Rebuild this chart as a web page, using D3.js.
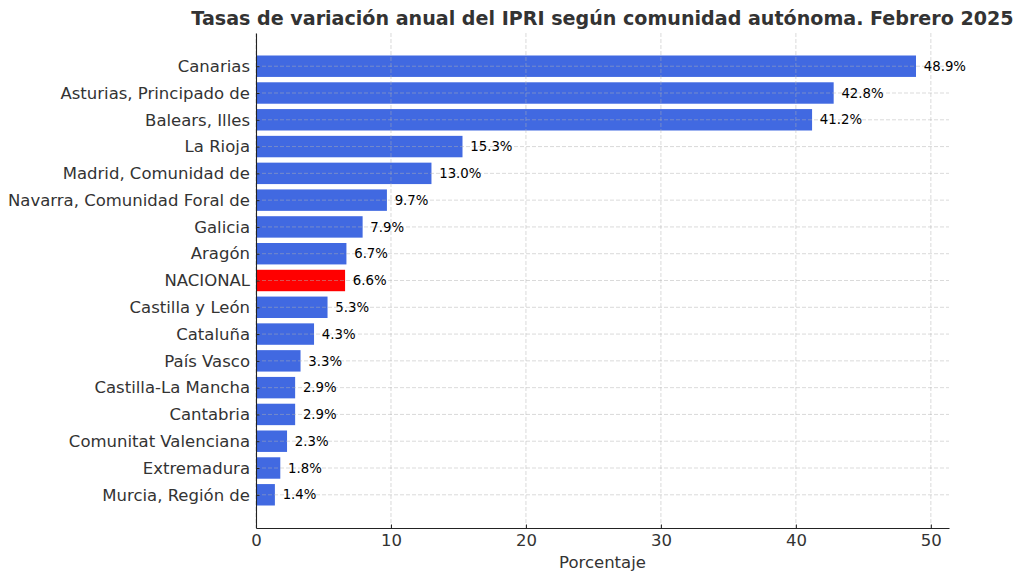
<!DOCTYPE html>
<html>
<head>
<meta charset="utf-8">
<script src="https://cdn.jsdelivr.net/npm/d3@7"></script>
<style>
  body { margin: 0; background: #fff; }
  text { font-family: "DejaVu Sans", sans-serif; }
</style>
</head>
<body>
<svg width="1024" height="581"></svg>
<script>
// datos
var regions = ["Canarias", "Asturias, Principado de", "Balears, Illes", "La Rioja",
  "Madrid, Comunidad de", "Navarra, Comunidad Foral de", "Galicia", "Aragón",
  "NACIONAL", "Castilla y León", "Cataluña", "País Vasco", "Castilla-La Mancha",
  "Cantabria", "Comunitat Valenciana", "Extremadura", "Murcia, Región de"];
var rates = [48.9, 42.8, 41.2, 15.3, 13.0, 9.7, 7.9, 6.7, 6.6, 5.3, 4.3, 3.3, 2.9, 2.9, 2.3, 1.8, 1.4];
var xTicks = [0, 10, 20, 30, 40, 50];

var plotLeft = 256, plotRight = 949, plotTop = 33, plotBottom = 528;

var svg = d3.select("svg");

var x = d3.scaleLinear()
  .domain([0, d3.max(rates) * 1.05])
  .range([plotLeft, plotRight]);

// posicion por indice, como en matplotlib (barh de altura 0.8 con margen 5%)
var y = d3.scaleLinear()
  .domain([-1.24, regions.length - 1 + 1.24])
  .range([plotTop, plotBottom]);

var barH = (y(0.8) - y(0));

// barras
svg.selectAll("rect.bar")
  .data(rates)
  .enter()
  .append("rect")
  .attr("class", "bar")
  .attr("x", x(0))
  .attr("y", function(d, i) { return y(i - 0.4); })
  .attr("width", function(d) { return x(d) - x(0); })
  .attr("height", barH)
  .attr("fill", function(d, i) { return regions[i] == "NACIONAL" ? "#ff0000" : "#4169e1"; });

// rejilla (encima de las barras)
var grid = svg.append("g");
grid.selectAll("line.gx")
  .data(xTicks)
  .enter()
  .append("line")
  .attr("class", "gx")
  .attr("x1", function(d) { return x(d); })
  .attr("x2", function(d) { return x(d); })
  .attr("y1", plotTop)
  .attr("y2", plotBottom)
  .attr("stroke", "#b0b0b0")
  .attr("stroke-opacity", 0.6)
  .attr("stroke-dasharray", "4,2")
  .attr("stroke-width", 0.8);
grid.selectAll("line.gy")
  .data(regions)
  .enter()
  .append("line")
  .attr("class", "gy")
  .attr("x1", plotLeft)
  .attr("x2", plotRight)
  .attr("y1", function(d, i) { return y(i); })
  .attr("y2", function(d, i) { return y(i); })
  .attr("stroke", "#b0b0b0")
  .attr("stroke-opacity", 0.6)
  .attr("stroke-dasharray", "4,2")
  .attr("stroke-width", 0.8);

// etiquetas de valor
svg.selectAll("text.val")
  .data(rates)
  .enter()
  .append("text")
  .attr("class", "val")
  .attr("x", function(d) { return x(d + 0.5) + 1; })
  .attr("y", function(d, i) { return y(i); })
  .attr("dy", "0.35em")
  .attr("font-size", "13.3px")
  .attr("fill", "#000")
  .text(function(d) { return d.toFixed(1) + "%"; });

// eje x (marcas hacia dentro)
var xAxis = svg.append("g")
  .attr("transform", "translate(0," + plotBottom + ")")
  .call(d3.axisBottom(x).tickValues(xTicks).tickSizeInner(-3.5).tickSizeOuter(0).tickPadding(6));
xAxis.select(".domain").attr("stroke", "#222").attr("stroke-width", 1.1);
xAxis.selectAll(".tick line").attr("stroke", "#222");
xAxis.selectAll(".tick text")
  .attr("font-family", "DejaVu Sans")
  .attr("font-size", "16.5px")
  .attr("fill", "#333");

// eje y
var yAxis = svg.append("g")
  .attr("transform", "translate(" + plotLeft + ",0)")
  .call(d3.axisLeft(y).tickValues(d3.range(regions.length))
    .tickFormat(function(i) { return regions[i]; })
    .tickSizeInner(-3.5).tickSizeOuter(0).tickPadding(6));
yAxis.select(".domain").attr("stroke", "#222").attr("stroke-width", 1.1);
yAxis.selectAll(".tick line").attr("stroke", "#222");
yAxis.selectAll(".tick text")
  .attr("font-family", "DejaVu Sans")
  .attr("font-size", "16.5px")
  .attr("fill", "#333");

// titulo y etiqueta
svg.append("text")
  .attr("x", (plotLeft + plotRight) / 2)
  .attr("y", 25)
  .attr("text-anchor", "middle")
  .attr("font-size", "19.1px")
  .attr("font-weight", "bold")
  .attr("fill", "#333")
  .text("Tasas de variación anual del IPRI según comunidad autónoma. Febrero 2025");

svg.append("text")
  .attr("x", (plotLeft + plotRight) / 2)
  .attr("y", 568)
  .attr("text-anchor", "middle")
  .attr("font-size", "16.5px")
  .attr("fill", "#333")
  .text("Porcentaje");
</script>
</body>
</html>
